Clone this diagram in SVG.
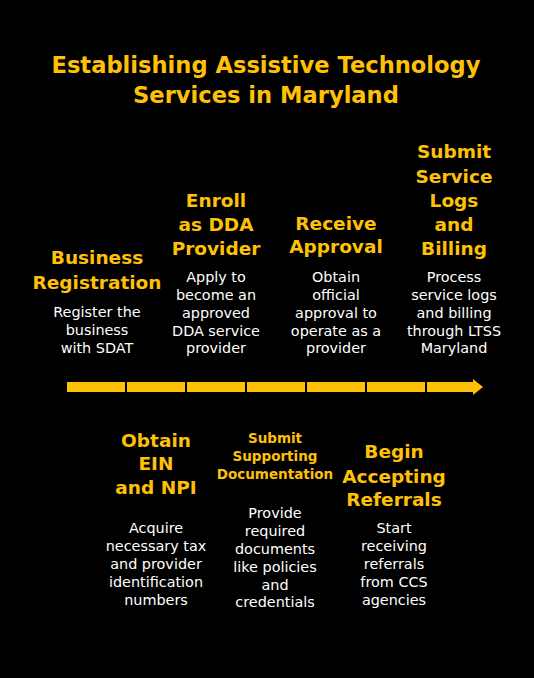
<svg xmlns="http://www.w3.org/2000/svg" width="534" height="678" viewBox="0 0 534 678">
<style>
.title{font-family:"DejaVu Sans",sans-serif;font-weight:bold;font-size:22.6px;fill:#FFC107;text-anchor:middle}
.head{font-family:"DejaVu Sans",sans-serif;font-weight:bold;font-size:18.5px;fill:#FFC107;text-anchor:middle}
.heads{font-family:"DejaVu Sans",sans-serif;font-weight:bold;font-size:13.5px;fill:#FFC107;text-anchor:middle}
.desc{font-family:"DejaVu Sans",sans-serif;font-size:14.4px;fill:#FFFFFF;text-anchor:middle}
.seg{fill:#FFC107}
</style>
<rect x="0" y="0" width="534" height="678" fill="#000000"/>
<g id="title">
<text class="title" x="266" y="73">Establishing Assistive Technology</text>
<text class="title" x="266" y="103">Services in Maryland</text>
</g>
<g id="connectors">
<rect class="seg" x="67" y="382" width="58" height="10"/>
<rect class="seg" x="127" y="382" width="58" height="10"/>
<rect class="seg" x="187" y="382" width="58" height="10"/>
<rect class="seg" x="247" y="382" width="58" height="10"/>
<rect class="seg" x="307" y="382" width="58" height="10"/>
<rect class="seg" x="367" y="382" width="58" height="10"/>
<path class="seg" d="M427 382 H473 V379 L483 387 L473 395 V392 H427 Z"/>
</g>
<g id="step-business-registration">
<text class="head" x="97" y="264">Business</text>
<text class="head" x="97" y="289">Registration</text>
<text class="desc" x="97" y="317">Register the</text>
<text class="desc" x="97" y="335">business</text>
<text class="desc" x="97" y="353">with SDAT</text>
</g>
<g id="step-obtain-ein-npi">
<text class="head" x="156" y="447">Obtain</text>
<text class="head" x="156" y="470">EIN</text>
<text class="head" x="156" y="494">and NPI</text>
<text class="desc" x="156" y="533">Acquire</text>
<text class="desc" x="156" y="551">necessary tax</text>
<text class="desc" x="156" y="569">and provider</text>
<text class="desc" x="156" y="587">identification</text>
<text class="desc" x="156" y="605">numbers</text>
</g>
<g id="step-enroll-dda">
<text class="head" x="216" y="207">Enroll</text>
<text class="head" x="216" y="231">as DDA</text>
<text class="head" x="216" y="255">Provider</text>
<text class="desc" x="216" y="282">Apply to</text>
<text class="desc" x="216" y="300">become an</text>
<text class="desc" x="216" y="318">approved</text>
<text class="desc" x="216" y="336">DDA service</text>
<text class="desc" x="216" y="353">provider</text>
</g>
<g id="step-submit-documentation">
<text class="heads" x="275" y="443">Submit</text>
<text class="heads" x="275" y="461">Supporting</text>
<text class="heads" x="275" y="479">Documentation</text>
<text class="desc" x="275" y="518">Provide</text>
<text class="desc" x="275" y="536">required</text>
<text class="desc" x="275" y="554">documents</text>
<text class="desc" x="275" y="572">like policies</text>
<text class="desc" x="275" y="590">and</text>
<text class="desc" x="275" y="607">credentials</text>
</g>
<g id="step-receive-approval">
<text class="head" x="336" y="230">Receive</text>
<text class="head" x="336" y="253">Approval</text>
<text class="desc" x="336" y="282">Obtain</text>
<text class="desc" x="336" y="300">official</text>
<text class="desc" x="336" y="318">approval to</text>
<text class="desc" x="336" y="336">operate as a</text>
<text class="desc" x="336" y="353">provider</text>
</g>
<g id="step-begin-referrals">
<text class="head" x="394" y="458">Begin</text>
<text class="head" x="394" y="483">Accepting</text>
<text class="head" x="394" y="506">Referrals</text>
<text class="desc" x="394" y="533">Start</text>
<text class="desc" x="394" y="551">receiving</text>
<text class="desc" x="394" y="569">referrals</text>
<text class="desc" x="394" y="587">from CCS</text>
<text class="desc" x="394" y="605">agencies</text>
</g>
<g id="step-submit-logs-billing">
<text class="head" x="454" y="158">Submit</text>
<text class="head" x="454" y="183">Service</text>
<text class="head" x="454" y="207">Logs</text>
<text class="head" x="454" y="231">and</text>
<text class="head" x="454" y="255">Billing</text>
<text class="desc" x="454" y="282">Process</text>
<text class="desc" x="454" y="300">service logs</text>
<text class="desc" x="454" y="318">and billing</text>
<text class="desc" x="454" y="336">through LTSS</text>
<text class="desc" x="454" y="353">Maryland</text>
</g>
</svg>
